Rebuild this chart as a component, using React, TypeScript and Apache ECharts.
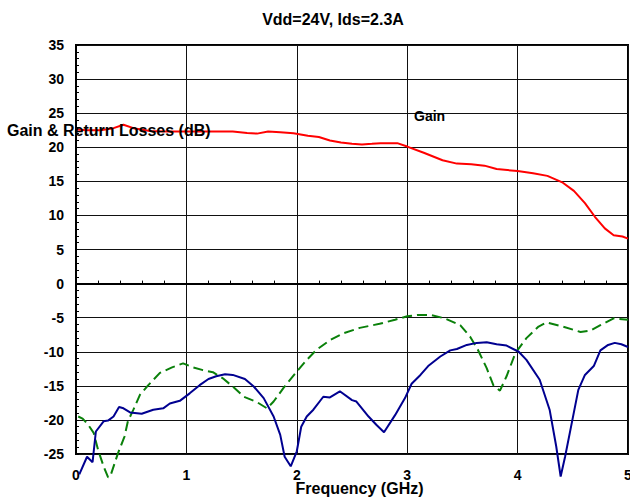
import React, { useEffect, useRef } from "react";
import * as echarts from "echarts";

const titleText = "Vdd=24V, Ids=2.3A";
const yAxisTitle = "Gain & Return Losses (dB)";
const xAxisTitle = "Frequency (GHz)";
const gainLabel = "Gain";

const xTicks = [0, 1, 2, 3, 4, 5];
const yTicks = [-25, -20, -15, -10, -5, 0, 5, 10, 15, 20, 25, 30, 35];

const gainFreq = [0.0, 0.1, 0.22, 0.34, 0.43, 0.52, 0.67, 0.82, 1.0, 1.2, 1.42, 1.55, 1.64, 1.74, 1.85, 1.97, 2.1, 2.2, 2.3, 2.4, 2.5, 2.59, 2.68, 2.76, 2.91, 3.0, 3.15, 3.32, 3.45, 3.58, 3.7, 3.81, 4.0, 4.14, 4.27, 4.41, 4.51, 4.61, 4.7, 4.79, 4.87, 4.95, 5.0];
const gainDb = [22.6, 22.5, 22.5, 22.8, 23.3, 22.8, 22.4, 22.3, 22.3, 22.3, 22.3, 22.1, 22.0, 22.3, 22.2, 22.05, 21.7, 21.5, 21.0, 20.7, 20.5, 20.4, 20.5, 20.6, 20.6, 20.1, 19.2, 18.1, 17.6, 17.5, 17.3, 16.8, 16.5, 16.2, 15.8, 14.8, 13.6, 11.8, 9.8, 8.1, 7.1, 6.9, 6.6];

const rlGreenFreq = [0.02, 0.06, 0.11, 0.16, 0.2, 0.25, 0.29, 0.31, 0.38, 0.44, 0.47, 0.52, 0.58, 0.655, 0.76, 0.87, 0.97, 1.06, 1.15, 1.24, 1.33, 1.42, 1.52, 1.64, 1.73, 1.79, 1.88, 2.0, 2.09, 2.18, 2.3, 2.42, 2.57, 2.75, 2.89, 3.0, 3.09, 3.21, 3.34, 3.48, 3.57, 3.64, 3.72, 3.78, 3.84, 3.9, 3.98, 4.08, 4.19, 4.26, 4.41, 4.57, 4.66, 4.75, 4.87, 5.0];
const rlGreenDb = [-19.5, -19.8, -20.7, -21.9, -24.4, -26.8, -28.4, -28.3, -24.9, -22.4, -20.2, -18.5, -16.3, -14.9, -13.1, -12.3, -11.7, -12.3, -12.7, -13.0, -13.9, -15.1, -16.6, -17.4, -18.3, -17.3, -15.3, -12.9, -11.2, -9.7, -8.3, -7.3, -6.5, -5.9, -5.3, -4.8, -4.6, -4.6, -5.1, -6.1, -7.8, -9.7, -12.4, -14.9, -15.7, -13.6, -10.2, -8.0, -6.3, -5.7, -6.3, -7.1, -6.9, -6.1, -5.1, -5.3];

const rlBlueFreq = [0.03, 0.1, 0.15, 0.18, 0.25, 0.29, 0.34, 0.39, 0.43, 0.49, 0.595, 0.7, 0.79, 0.85, 0.94, 1.03, 1.12, 1.2, 1.27, 1.35, 1.42, 1.53, 1.61, 1.7, 1.79, 1.85, 1.89, 1.945, 2.0, 2.04, 2.09, 2.15, 2.24, 2.3, 2.39, 2.5, 2.54, 2.65, 2.72, 2.79, 2.89, 2.98, 3.04, 3.12, 3.19, 3.3, 3.39, 3.45, 3.54, 3.63, 3.72, 3.81, 3.9, 4.01, 4.08, 4.2, 4.29, 4.35, 4.39, 4.43, 4.49, 4.55, 4.61, 4.69, 4.75, 4.82, 4.88, 4.94, 5.0];
const rlBlueDb = [-28.0, -25.4, -26.2, -21.7, -20.2, -20.1, -19.5, -18.1, -18.3, -18.9, -19.1, -18.5, -18.3, -17.6, -17.2, -16.1, -14.9, -14.0, -13.6, -13.3, -13.4, -14.0, -15.1, -16.8, -19.5, -22.2, -25.4, -26.8, -24.6, -21.0, -19.5, -18.5, -16.6, -16.7, -15.8, -17.1, -17.3, -19.5, -20.7, -21.8, -19.3, -16.8, -14.7, -13.4, -12.1, -10.7, -9.8, -9.6, -9.0, -8.7, -8.6, -8.9, -9.1, -10.0, -11.2, -14.1, -18.5, -23.9, -28.3, -25.4, -20.5, -15.6, -13.4, -12.1, -9.8, -9.0, -8.7, -8.9, -9.3];

const zip = (xs: number[], ys: number[]) => xs.map((x, i) => [x, ys[i]]);

const FONT = '"Liberation Sans", Arial, Helvetica, sans-serif';

export default function App() {
  const ref = useRef<HTMLDivElement>(null);
  useEffect(() => {
    document.body.style.margin = "0";
    const chart = echarts.init(ref.current!, null, { renderer: "svg" });
    chart.setOption({
      animation: false,
      backgroundColor: "#ffffff",
      grid: {
        left: 76,
        right: 2,
        top: 45,
        bottom: 45,
        show: true,
        borderColor: "#000",
        borderWidth: 2,
        backgroundColor: "transparent",
        containLabel: false,
        outerBoundsMode: "none",
      },
      xAxis: {
        type: "value",
        min: xTicks[0],
        max: xTicks[xTicks.length - 1],
        interval: 1,
        axisLine: { show: true, lineStyle: { color: "#000", width: 2 } },
        axisTick: { show: true, inside: true, length: 3, lineStyle: { color: "#000" } },
        minorTick: { show: true, splitNumber: 5, length: 3, lineStyle: { color: "#000", width: 1 } },
        splitLine: { show: true, lineStyle: { color: "#111", width: 1 } },
        axisLabel: {
          color: "#000",
          fontFamily: FONT,
          fontWeight: "bold",
          fontSize: 14,
          margin: 14,
          showMaxLabel: true,
          showMinLabel: true,
        },
      },
      yAxis: {
        type: "value",
        min: yTicks[0],
        max: yTicks[yTicks.length - 1],
        interval: 5,
        axisLine: { show: true, lineStyle: { color: "#000", width: 2 } },
        axisTick: { show: true, inside: true, length: 3, lineStyle: { color: "#000" } },
        minorTick: { show: true, splitNumber: 5, length: 3, lineStyle: { color: "#000", width: 1 } },
        splitLine: { show: true, lineStyle: { color: "#111", width: 1 } },
        axisLabel: {
          color: "#000",
          fontFamily: FONT,
          fontWeight: "bold",
          fontSize: 14,
          margin: 12,
        },
      },
      graphic: [
        {
          type: "text",
          x: 333,
          y: 19,
          z: 10,
          style: { text: titleText, fill: "#000", font: `bold 16px ${FONT}`, textAlign: "center", textVerticalAlign: "middle" },
        },
        {
          type: "text",
          x: 7,
          y: 130,
          z: 10,
          style: { text: yAxisTitle, fill: "#000", font: `bold 16px ${FONT}`, textAlign: "left", textVerticalAlign: "middle" },
        },
        {
          type: "text",
          x: 359.5,
          y: 488.5,
          z: 10,
          style: { text: xAxisTitle, fill: "#000", font: `bold 16px ${FONT}`, textAlign: "center", textVerticalAlign: "middle" },
        },
        {
          type: "text",
          x: 414,
          y: 116,
          z: 10,
          style: { text: gainLabel, fill: "#000", font: `bold 14px ${FONT}`, textAlign: "left", textVerticalAlign: "middle" },
        },
      ],
      series: [
        {
          name: "Gain",
          type: "line",
          data: zip(gainFreq, gainDb),
          showSymbol: false,
          clip: false,
          lineStyle: { color: "#ff0000", width: 2 },
          z: 3,
        },
        {
          name: "RL green",
          type: "line",
          data: zip(rlGreenFreq, rlGreenDb),
          showSymbol: false,
          clip: false,
          lineStyle: { color: "#0a800a", width: 2, type: [10, 5] },
          z: 3,
        },
        {
          name: "RL blue",
          type: "line",
          data: zip(rlBlueFreq, rlBlueDb),
          showSymbol: false,
          clip: false,
          lineStyle: { color: "#000090", width: 2 },
          z: 4,
        },
      ],
    });
    return () => chart.dispose();
  }, []);
  return <div ref={ref} style={{ position: "absolute", left: 0, top: 0, width: 630, height: 499 }} />;
}
